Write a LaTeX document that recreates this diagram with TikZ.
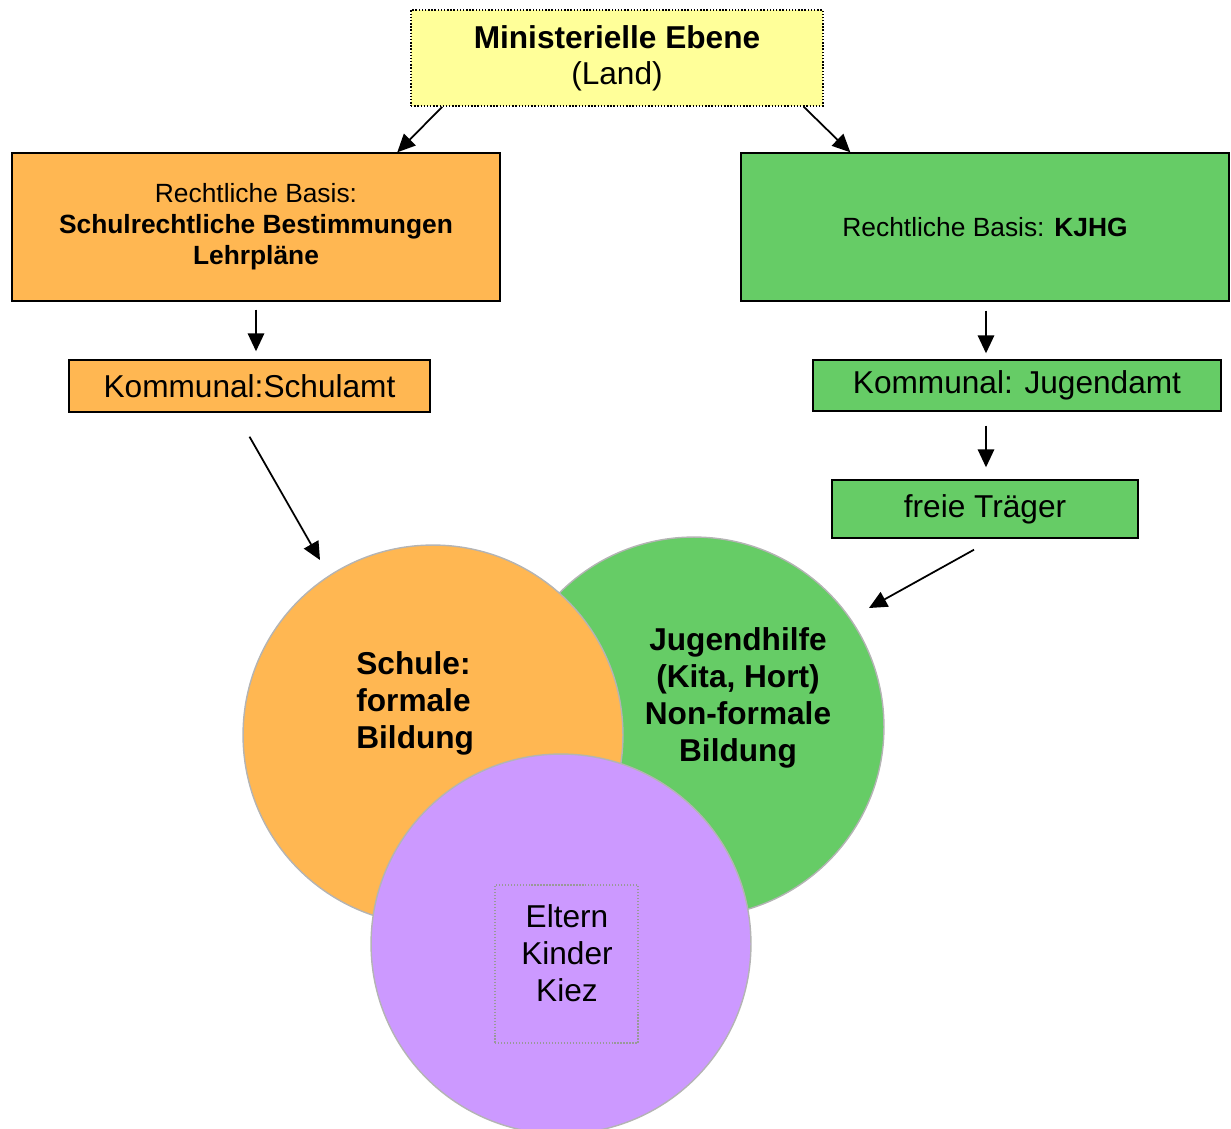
\documentclass[tikz,border=0pt]{standalone}
\usepackage{fontspec}
\setmainfont{Liberation Sans}
\usetikzlibrary{arrows.meta,positioning,calc}
\definecolor{lemon}{HTML}{FFFF99}
\definecolor{apricot}{HTML}{FFB752}
\definecolor{leaf}{HTML}{66CC66}
\definecolor{lilac}{HTML}{CC99FF}
\definecolor{rim}{HTML}{B4B4B4}
\tikzset{
  box/.style={draw=black, line width=0.8pt, fill=#1, align=center, inner sep=0pt},
  blob/.style={circle, draw=rim, line width=0.8pt, fill=#1, minimum size=7.6cm, inner sep=0pt},
  bigtxt/.style={font=\fontsize{18}{21}\selectfont, align=center, inner sep=0pt},
  midtxt/.style={font=\fontsize{15}{17.6}\selectfont, align=center},
  arr/.style={-{Triangle[length=3.6mm,width=3.3mm]}, line width=1pt},
}
\begin{document}
\begin{tikzpicture}[x=0.02cm,y=-0.02cm]
  \useasboundingbox (0,0) rectangle (1231,1129);

  % Land
  \node[box=lemon, densely dotted, line width=1pt, minimum width=8.24cm, minimum height=1.92cm,
        font=\fontsize{18}{20.4}\selectfont] (mini) at (617,58) {\textbf{Ministerielle Ebene}\\(Land)};

  % legal basis
  \node[box=apricot, midtxt, minimum width=9.76cm, minimum height=2.96cm] (basisS) at (256,227)
    {Rechtliche Basis:\\\textbf{Schulrechtliche Bestimmungen}\\\textbf{Lehrpläne}};
  \node[box=leaf, midtxt, minimum width=9.76cm, minimum height=2.96cm] (basisJ) at (985,227)
    {Rechtliche Basis: \textbf{KJHG}};

  % municipal level
  \node[box=apricot, bigtxt, minimum width=7.22cm, minimum height=1.04cm] (amtS) at (249.5,386) {Kommunal:Schulamt};
  \node[box=leaf, bigtxt, minimum width=8.16cm, minimum height=1.02cm] (amtJ) at (1017,385.5) {Kommunal: Jugendamt};
  \node[box=leaf, bigtxt, minimum width=6.12cm, minimum height=1.16cm] (traeger) at (985,509) {freie Träger};

  % circles
  \node[blob=leaf] (jugend) at (694,727) {};
  \node[blob=apricot] (schule) at (433,735) {};
  \node[blob=lilac] (kiez) at (561,944) {};

  \node[bigtxt, font=\fontsize{18}{21}\selectfont\bfseries, align=left, anchor=west] (schultxt) at (356,703)
    {Schule:\\formale\\Bildung};
  \node[bigtxt, font=\fontsize{18}{21}\selectfont\bfseries] (jugendtxt) at (738,698)
    {Jugendhilfe\\(Kita, Hort)\\Non-formale\\Bildung};
  \node[draw=rim!85!black, densely dotted, line width=0.7pt, minimum width=2.86cm, minimum height=3.16cm] (kiezbox) at (566.5,964) {};
  \node[bigtxt] (kieztxt) at (567,953) {Eltern\\Kinder\\Kiez};

  % arrows
  \draw[arr] ([xshift=0.64cm]mini.south west) -- ([xshift=7.72cm]basisS.north west);
  \draw[arr] ([xshift=-0.4cm]mini.south east) -- ([xshift=2.2cm]basisJ.north west);
  \draw[arr] ($(basisS.south)+(0,8)$) -- ($(basisS.south |- amtS.north)+(0,-8)$);
  \draw[arr] ($(basisJ.south)+(1,9)$) -- ($(basisJ.south |- amtJ.north)+(1,-6)$);
  \draw[arr] ($(amtJ.south -| traeger.north)+(1,14)$) -- ($(traeger.north)+(1,-12)$);
  \draw[arr] ([yshift=-0.48cm]amtS.south) -- ([xshift=-2.26cm,yshift=3.5cm]schule.center);
  \draw[arr] ([xshift=-0.22cm,yshift=-0.22cm]traeger.south) -- ([xshift=3.5cm,yshift=2.38cm]jugend.center);
\end{tikzpicture}
\end{document}
